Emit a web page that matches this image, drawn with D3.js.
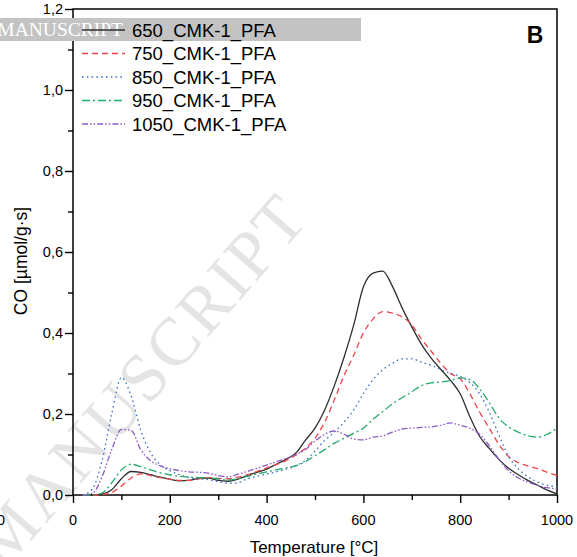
<!DOCTYPE html>
<html>
<head>
<meta charset="utf-8">
<script src="https://cdn.jsdelivr.net/npm/d3@7"></script>
<style>
  body { margin: 0; background: #fff; }
  svg { display: block; font-family: "Liberation Sans", Arial, sans-serif; }
</style>
</head>
<body>
<svg id="chart" width="577" height="557"></svg>
<script>
// Temperature grid (°C)
const temps = [20, 40, 60, 80, 100, 120, 140, 160, 180, 200, 220, 240, 260, 280, 300, 320, 340, 360, 380, 400,
  420, 440, 460, 480, 500, 520, 540, 560, 580, 600, 620, 640, 660, 680, 700, 720, 740, 760, 780, 800,
  820, 840, 860, 880, 900, 920, 940, 960, 980, 1000];

// CO signal [µmol/g·s] per sample
const co650 = [0, 0, 0.002, 0.013, 0.04, 0.058, 0.056, 0.05, 0.044, 0.039, 0.035, 0.036, 0.041, 0.042, 0.036, 0.034, 0.039, 0.048, 0.056, 0.064,
  0.076, 0.088, 0.103, 0.135, 0.165, 0.21, 0.27, 0.34, 0.42, 0.514, 0.548, 0.553, 0.515, 0.462, 0.415, 0.372, 0.338, 0.31, 0.283, 0.25,
  0.193, 0.145, 0.115, 0.088, 0.066, 0.05, 0.036, 0.024, 0.012, 0.003];
const co750 = [0, 0, 0.001, 0.006, 0.022, 0.042, 0.052, 0.048, 0.043, 0.039, 0.036, 0.036, 0.04, 0.043, 0.041, 0.04, 0.044, 0.05, 0.058, 0.067,
  0.075, 0.085, 0.098, 0.115, 0.14, 0.18, 0.235, 0.295, 0.345, 0.4, 0.435, 0.453, 0.449, 0.44, 0.42, 0.385, 0.355, 0.325, 0.3, 0.287,
  0.25, 0.205, 0.165, 0.125, 0.095, 0.08, 0.072, 0.065, 0.056, 0.048];
const co850 = [0, 0.015, 0.085, 0.2, 0.29, 0.245, 0.16, 0.105, 0.075, 0.06, 0.05, 0.043, 0.04, 0.038, 0.033, 0.029, 0.03, 0.04, 0.046, 0.052,
  0.057, 0.064, 0.072, 0.085, 0.108, 0.135, 0.155, 0.18, 0.21, 0.25, 0.285, 0.309, 0.325, 0.336, 0.336, 0.328, 0.32, 0.31, 0.3, 0.293,
  0.278, 0.25, 0.205, 0.148, 0.095, 0.065, 0.045, 0.032, 0.024, 0.02];
const co950 = [0, 0, 0.005, 0.03, 0.062, 0.076, 0.07, 0.062, 0.055, 0.05, 0.046, 0.044, 0.043, 0.042, 0.04, 0.037, 0.04, 0.046, 0.052, 0.057,
  0.062, 0.067, 0.072, 0.082, 0.097, 0.112, 0.128, 0.14, 0.152, 0.165, 0.187, 0.206, 0.225, 0.24, 0.255, 0.27, 0.277, 0.279, 0.283, 0.289,
  0.285, 0.262, 0.228, 0.19, 0.168, 0.155, 0.146, 0.143, 0.15, 0.165];
const co1050 = [0, 0.004, 0.045, 0.112, 0.162, 0.16, 0.112, 0.085, 0.072, 0.065, 0.06, 0.057, 0.056, 0.054, 0.048, 0.045, 0.051, 0.058, 0.066, 0.074,
  0.082, 0.09, 0.1, 0.112, 0.133, 0.15, 0.158, 0.15, 0.138, 0.136, 0.143, 0.146, 0.155, 0.163, 0.165, 0.167, 0.168, 0.172, 0.178, 0.172,
  0.165, 0.15, 0.122, 0.088, 0.06, 0.042, 0.032, 0.024, 0.018, 0.015];

const seriesNames = ["650_CMK-1_PFA", "750_CMK-1_PFA", "850_CMK-1_PFA", "950_CMK-1_PFA", "1050_CMK-1_PFA"];
const seriesValues = [co650, co750, co850, co950, co1050];
const seriesColors = ["#2e2e2e", "#f0434b", "#3a6fc6", "#1faa68", "#8d5cc4"];
const seriesDashes = [null, "6,4", "1.6,3.2", "8,3,2,3", "6,2,1.6,2,1.6,2"];

const xTicks = [0, 200, 400, 600, 800, 1000];
const yTicks = [0, 0.2, 0.4, 0.6, 0.8, 1.0, 1.2];

const svg = d3.select("#chart");
const margin = { left: 73, right: 20, top: 9, bottom: 62 };
const width = 577, height = 557;

const x = d3.scaleLinear().domain([0, 1000]).range([margin.left, width - margin.right]);
const y = d3.scaleLinear().domain([0, 1.2]).range([height - margin.bottom, margin.top]);

// watermark
svg.append("text")
  .attr("transform", "translate(4,572) rotate(-49)")
  .style("font-family", "'Liberation Serif', 'Times New Roman', serif")
  .style("font-size", "68px")
  .style("letter-spacing", "3px")
  .style("fill", "#e4e4e4")
  .text("MANUSCRIPT");

// axes
const fmt = d3.format(".1f");
svg.append("g")
  .attr("transform", `translate(0,${y(0)})`)
  .call(d3.axisBottom(x).tickValues(d3.range(0, 1001, 100)).tickSize(8).tickFormat(""))
  .call(g => g.selectAll(".tick line").filter(d => d % 200 !== 0).attr("y2", 5))
  .call(g => g.select(".domain").remove());
svg.append("g")
  .attr("transform", `translate(${x(0)},0)`)
  .call(d3.axisLeft(y).tickValues(d3.range(0, 1.21, 0.1)).tickSize(8).tickFormat(""))
  .call(g => g.selectAll(".tick line").filter((d, i) => i % 2 === 1).attr("x2", -5))
  .call(g => g.select(".domain").remove());

svg.selectAll(".tick line").attr("stroke", "#000").attr("stroke-width", 1.4);

svg.append("g").selectAll("text").data(xTicks).join("text")
  .attr("x", d => x(d)).attr("y", 525)
  .attr("text-anchor", "middle")
  .style("font-size", "14.5px")
  .text(d => d);
svg.append("g").selectAll("text").data(yTicks).join("text")
  .attr("x", 63).attr("y", d => y(d) + 5)
  .attr("text-anchor", "end")
  .style("font-size", "14.5px")
  .text(d => fmt(d).replace(".", ","));

// partial label from neighbouring panel
svg.append("text").attr("x", 5).attr("y", 525).attr("text-anchor", "end")
  .style("font-size", "14.5px").text("1000");

// frame
svg.append("rect")
  .attr("x", x(0)).attr("y", y(1.2))
  .attr("width", x(1000) - x(0)).attr("height", y(0) - y(1.2))
  .attr("fill", "none").attr("stroke", "#000").attr("stroke-width", 1.5);

// curves
const line = d3.line()
  .x((d, i) => x(temps[i]))
  .y(d => y(d))
  .curve(d3.curveMonotoneX);

svg.append("g").selectAll("path").data(seriesValues).join("path")
  .attr("d", line)
  .attr("fill", "none")
  .attr("stroke", (d, i) => seriesColors[i])
  .attr("stroke-width", 1.3)
  .attr("stroke-dasharray", (d, i) => seriesDashes[i]);

// header band
svg.append("rect").attr("x", 0).attr("y", 18).attr("width", 361).attr("height", 23).attr("fill", "#c3c3c3");
svg.append("text").attr("x", 123).attr("y", 36).attr("text-anchor", "end")
  .style("font-family", "'Liberation Serif', 'Times New Roman', serif")
  .style("font-size", "19.5px").style("fill", "#fff")
  .text("ACCEPTED MANUSCRIPT");

// legend
const legend = svg.append("g").selectAll("g").data(seriesNames).join("g")
  .attr("transform", (d, i) => `translate(0,${30 + i * 23.5})`);
legend.append("line")
  .attr("x1", 82).attr("x2", 125)
  .attr("stroke", (d, i) => seriesColors[i])
  .attr("stroke-width", 1.3)
  .attr("stroke-dasharray", (d, i) => seriesDashes[i]);
legend.append("text")
  .attr("x", 132).attr("y", 6.5)
  .style("font-size", "18.5px")
  .text(d => d);

// panel letter
svg.append("text").attr("x", 535).attr("y", 43).attr("text-anchor", "middle")
  .style("font-size", "23px").style("font-weight", "bold").text("B");

// axis titles
svg.append("text").attr("x", 314).attr("y", 553).attr("text-anchor", "middle")
  .style("font-size", "17px").text("Temperature [°C]");
svg.append("text").attr("transform", "translate(27,261) rotate(-90)").attr("text-anchor", "middle")
  .style("font-size", "17.5px").text("CO [µmol/g·s]");
</script>
</body>
</html>
